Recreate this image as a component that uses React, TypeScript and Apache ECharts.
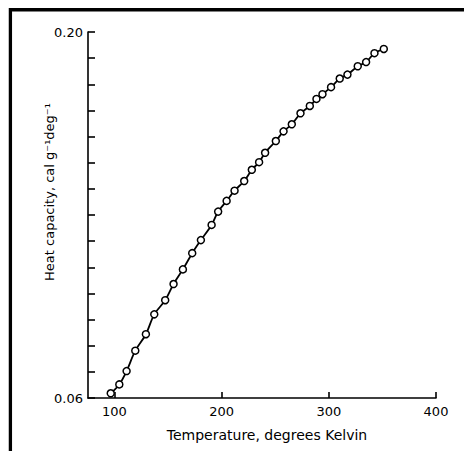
import React, { useEffect, useRef } from "react";
import * as echarts from "echarts";

const temperatures = [
  96.6, 104.6, 111.4, 119.5, 129.4, 137.2, 147.4, 155.2, 163.9, 172.6, 180.7,
  190.7, 196.8, 204.7, 212.1, 221.1, 228.2, 235.0, 240.6, 250.6, 257.8, 265.5,
  273.6, 282.3, 288.5, 294.1, 302.1, 310.2, 317.4, 327.0, 334.8, 342.6, 351.3,
];
const heatCapacity = [
  0.0618, 0.0652, 0.0703, 0.0781, 0.0844, 0.092, 0.0974, 0.1036, 0.1092,
  0.1154, 0.1204, 0.1262, 0.1313, 0.1354, 0.1393, 0.143, 0.1473, 0.1502,
  0.1538, 0.1583, 0.162, 0.1647, 0.1689, 0.1717, 0.1744, 0.1762, 0.1789,
  0.1822, 0.1837, 0.1869, 0.1885, 0.1919, 0.1935,
];
const xTickValues = [100, 200, 300, 400];
const yTickValues = [
  0.06, 0.07, 0.08, 0.09, 0.1, 0.11, 0.12, 0.13, 0.14, 0.15, 0.16, 0.17, 0.18,
  0.19, 0.2,
];
const yLabelValues = [0.06, 0.2];

const FONT = "DejaVu Sans";

export default function App() {
  const ref = useRef<HTMLDivElement>(null);
  useEffect(() => {
    document.body.style.margin = "0";
    if (!ref.current) return;
    const chart = echarts.init(ref.current, null, { renderer: "svg" });
    const data = temperatures.map((t, i) => [t, heatCapacity[i]]);
    chart.setOption({
      animation: false,
      backgroundColor: "#ffffff",
      grid: { left: 88, top: 32, right: 28, bottom: 53, containLabel: false },
      xAxis: {
        type: "value",
        min: 75.4,
        max: 400,
        splitLine: { show: false },
        axisLine: { show: true, lineStyle: { color: "#000", width: 1.6 } },
        axisTick: {
          show: true,
          inside: true,
          length: 6,
          customValues: xTickValues,
          lineStyle: { color: "#000", width: 1.6 },
        },
        axisLabel: {
          customValues: xTickValues,
          color: "#000",
          fontFamily: FONT,
          fontSize: 13,
          margin: 7,
        },
        name: "Temperature, degrees Kelvin",
        nameLocation: "middle",
        nameGap: 30,
        nameTextStyle: { color: "#000", fontFamily: FONT, fontSize: 14, padding: [0, 0, 0, 10] },
      },
      yAxis: {
        type: "value",
        min: 0.06,
        max: 0.2,
        splitLine: { show: false },
        axisLine: { show: true, lineStyle: { color: "#000", width: 1.6 } },
        axisTick: {
          show: true,
          inside: true,
          length: 7,
          customValues: yTickValues,
          lineStyle: { color: "#000", width: 1.6 },
        },
        axisLabel: {
          customValues: yLabelValues,
          formatter: (v: number) => v.toFixed(2),
          color: "#000",
          fontFamily: FONT,
          fontSize: 13,
          margin: 5,
        },
      },
      graphic: [
        {
          type: "line",
          shape: { x1: 9, y1: 9.85, x2: 464, y2: 9.85 },
          style: { stroke: "#000", lineWidth: 3.5 },
        },
        {
          type: "line",
          shape: { x1: 10.4, y1: 8, x2: 10.4, y2: 451 },
          style: { stroke: "#000", lineWidth: 3.3 },
        },
        {
          type: "text",
          x: 49,
          y: 192,
          rotation: Math.PI / 2,
          style: {
            text: "Heat capacity, cal g⁻¹deg⁻¹",
            fill: "#000",
            font: `13px "${FONT}"`,
            align: "center",
            verticalAlign: "middle",
          },
        },
      ],
      series: [
        {
          type: "line",
          data,
          smooth: 0.3,
          symbol: "circle",
          symbolSize: 7,
          showSymbol: true,
          lineStyle: { color: "#000", width: 1.8 },
          itemStyle: { color: "#fff", borderColor: "#000", borderWidth: 1.5 },
          z: 3,
        },
      ],
    });
    return () => chart.dispose();
  }, []);
  return <div ref={ref} style={{ width: 464, height: 451 }} />;
}
